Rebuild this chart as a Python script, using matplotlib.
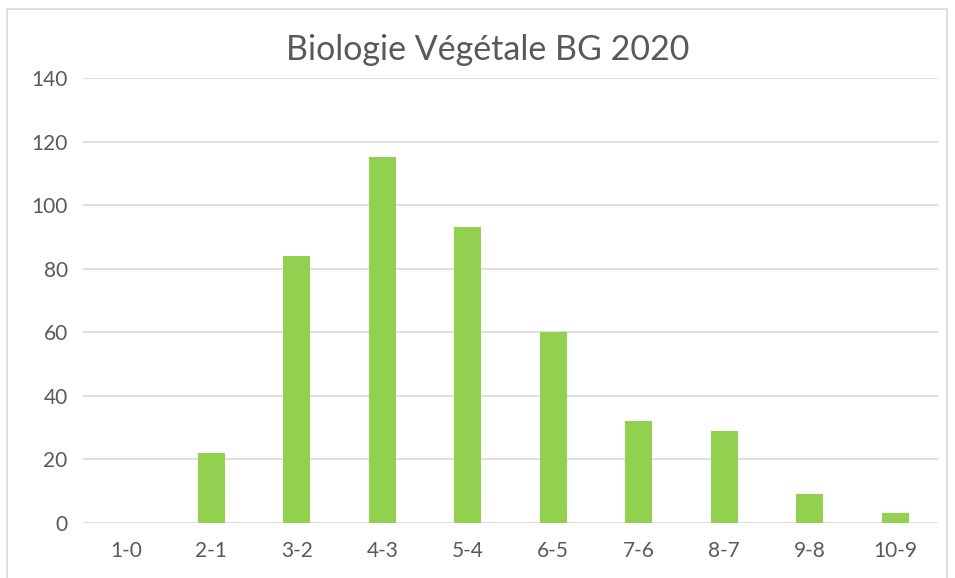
import matplotlib.pyplot as plt
from matplotlib.patches import Rectangle

categories = ['1-0', '2-1', '3-2', '4-3', '5-4', '6-5', '7-6', '8-7', '9-8', '10-9']
counts = [0, 22, 84, 115, 93, 60, 32, 29, 9, 3]

W, H = 955, 578
plt.rcParams['font.family'] = ['Lato', 'DejaVu Sans']

fig = plt.figure(figsize=(W / 100, H / 100), dpi=100)
# plot area in pixels: x 83..938, y 78..523
ax = fig.add_axes([83 / W, 1 - 523 / H, (938 - 83) / W, (523 - 78) / H])

x = range(len(categories))
ax.bar(x, counts, width=0.32, color='#92D050', zorder=3)

ax.set_xlim(-0.5, len(categories) - 0.5)
ax.set_ylim(0, 140)
ax.set_yticks(range(0, 141, 20))
ax.set_xticks(list(x))
ax.set_xticklabels(categories)

ax.grid(axis='y', color='#d9d9d9', linewidth=1.2, zorder=0)
for s in ax.spines.values():
    s.set_visible(False)
ax.tick_params(length=0, labelsize=15, colors='#595959')
ax.tick_params(axis='x', pad=13)
ax.tick_params(axis='y', pad=11)

fig.text(488 / W, 1 - 50 / H, 'Biologie Végétale BG 2020', ha='center', va='center',
         fontsize=24.5, color='#595959')

# chart border
fig.patches.append(Rectangle((7 / W, -0.01), (947 - 7) / W, 1 - 9 / H + 0.01,
                             transform=fig.transFigure, fill=False,
                             edgecolor='#d9d9d9', linewidth=1.2))

plt.savefig('out.png', dpi=100)
